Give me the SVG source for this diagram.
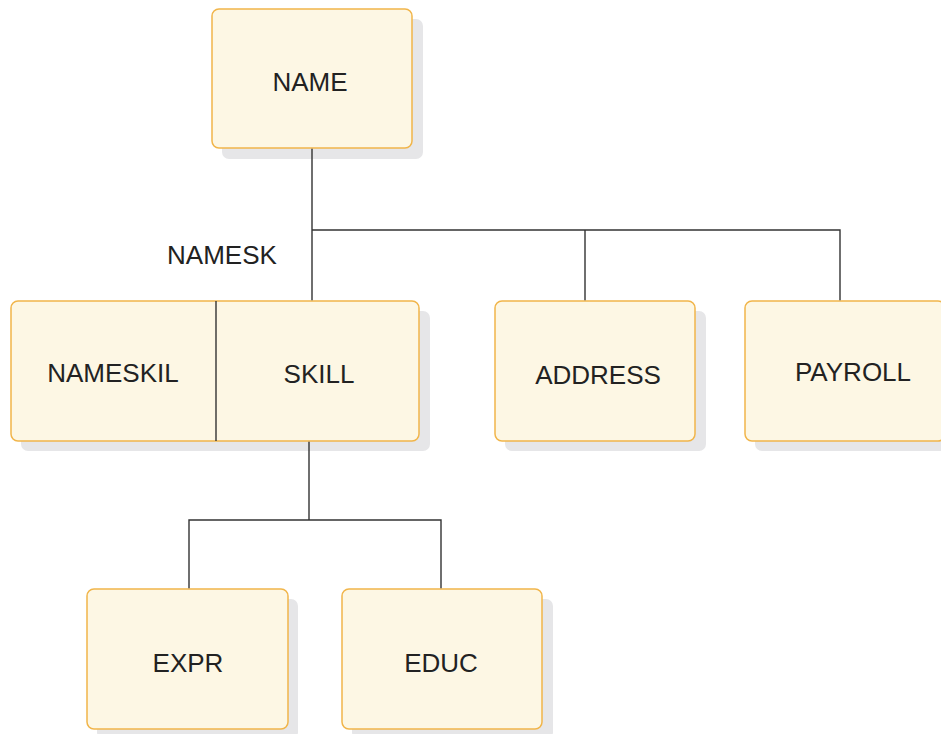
<svg xmlns="http://www.w3.org/2000/svg" width="941" height="734" viewBox="0 0 941 734">
<style>
.sh{fill:#e6e6e8;stroke:none}
.bx{fill:#fdf7e4;stroke:#f1b54a;stroke-width:1.5}
.t{font-family:"Liberation Sans",Arial,sans-serif;font-size:26px;fill:#222;text-anchor:middle}
.ln{stroke:#333;stroke-width:1.4;fill:none}
</style>
<rect width="941" height="734" fill="#fff"/>
<text class="t" x="222" y="264">NAMESK</text>
<g id="NAME">
<rect class="sh" x="222" y="19" width="201" height="140" rx="7"/>
<rect class="bx" x="212" y="9" width="200" height="139" rx="7"/>
<text class="t" x="310" y="91">NAME</text>
</g>
<g id="NAMESKIL_SKILL">
<rect class="sh" x="21" y="311" width="409" height="140" rx="7"/>
<rect class="bx" x="11" y="301" width="408" height="140" rx="7"/>
<line class="ln" x1="216" y1="301" x2="216" y2="441"/>
<text class="t" x="113" y="382">NAMESKIL</text>
<text class="t" x="319" y="383">SKILL</text>
</g>
<g id="ADDRESS">
<rect class="sh" x="505" y="311" width="201" height="140" rx="7"/>
<rect class="bx" x="495" y="301" width="200" height="140" rx="7"/>
<text class="t" x="598" y="384">ADDRESS</text>
</g>
<g id="PAYROLL">
<rect class="sh" x="755" y="311" width="201" height="140" rx="7"/>
<rect class="bx" x="745" y="301" width="200" height="140" rx="7"/>
<text class="t" x="853" y="381">PAYROLL</text>
</g>
<g id="EXPR">
<rect class="sh" x="97" y="599" width="201" height="140" rx="7"/>
<rect class="bx" x="87" y="589" width="201" height="140" rx="7"/>
<text class="t" x="188" y="672">EXPR</text>
</g>
<g id="EDUC">
<rect class="sh" x="352" y="599" width="201" height="140" rx="7"/>
<rect class="bx" x="342" y="589" width="200" height="140" rx="7"/>
<text class="t" x="441" y="672">EDUC</text>
</g>
<g id="connectors">
<path class="ln" d="M312 148.8V300.2M312 230H840V300.2M585 230V300.2"/>
<path class="ln" d="M309 441.8V520M189 588.2V520H441V588.2"/>
</g>
</svg>
